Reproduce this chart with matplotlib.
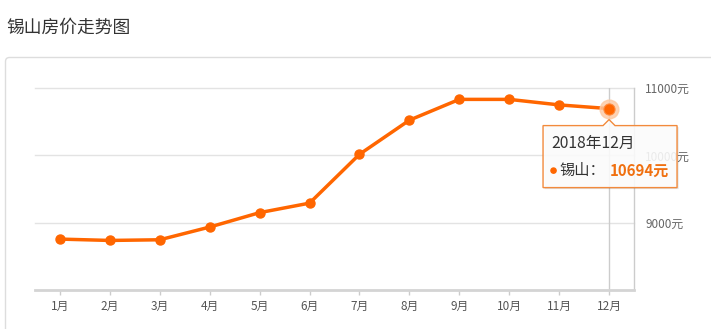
import matplotlib
matplotlib.use("Agg")
import matplotlib.pyplot as plt
import matplotlib.transforms as mtransforms
from matplotlib.patches import FancyBboxPatch, Polygon, Circle

plt.rcParams['font.family'] = ['Noto Sans CJK SC', 'DejaVu Sans']

# =========================
# Datos
# =========================
title = "锡山房价走势图"
months = ["1月", "2月", "3月", "4月", "5月", "6月",
          "7月", "8月", "9月", "10月", "11月", "12月"]
prices = [8756, 8736, 8746, 8935, 9149, 9290,
          10015, 10522, 10831, 10831, 10749, 10694]
y_ticks = [9000, 10000, 11000]
tip_date = "2018年12月"
tip_name = "锡山："

W, H = 711, 329
ORANGE = "#ff6600"
px = mtransforms.IdentityTransform()

fig = plt.figure(figsize=(W / 100, H / 100), dpi=100)
fig.patch.set_facecolor("white")

# titulo
fig.text(6 / W, 1 - 28 / H, title, fontsize=12.8, color="#333333",
         ha="left", va="center")

# panel exterior
panel = FancyBboxPatch((5.5, -40), 760, H - 57.5 + 40,
                       boxstyle="round,pad=0,rounding_size=4",
                       transform=px, facecolor="white",
                       edgecolor="#dddddd", lw=1, zorder=-1)
fig.add_artist(panel)

# =========================
# Ejes
# =========================
left, right, top, bottom = 35, 634, 88, 290
ax = fig.add_axes([left / W, 1 - bottom / H, (right - left) / W, (bottom - top) / H])
ax.set_facecolor("none")
ax.set_xlim(-0.5, len(months) - 0.5)
ax.set_ylim(8000, 11000)

for s in ["top", "left"]:
    ax.spines[s].set_visible(False)
ax.spines["bottom"].set_color("#d4d4d4")
ax.spines["bottom"].set_linewidth(2)
ax.spines["right"].set_color("#cccccc")
ax.spines["right"].set_linewidth(1)

for v in y_ticks:
    ax.axhline(v, color="#e3e3e3", lw=1, zorder=1, clip_on=False)

ax.yaxis.tick_right()
ax.set_yticks(y_ticks)
ax.set_yticklabels([f"{v}元" for v in y_ticks])
ax.tick_params(axis="y", length=0, pad=8, labelsize=8.5, labelcolor="#666666")

x = list(range(len(months)))
ax.set_xticks(x)
ax.set_xticklabels(months)
ax.tick_params(axis="x", length=3.5, width=1, color="#cccccc", pad=4,
               labelsize=8.5, labelcolor="#555555")

# linea cruzada
ax.axvline(x[-1], color="#cccccc", lw=1, zorder=2)

ax.plot(x, prices, color=ORANGE, lw=2.5, marker="o", ms=6.5, zorder=3,
        solid_capstyle="round")

# punto resaltado
ax.plot(x[-1], prices[-1], "o", ms=13.5, color="#fcc9a3", alpha=0.8, zorder=4)
ax.plot(x[-1], prices[-1], "o", ms=8, color=ORANGE, mec="#ff8a3d", mew=0.8, zorder=5)

# =========================
# Tooltip
# =========================
cx, cy = ax.transData.transform((x[-1], prices[-1]))
bl, br, bt, bb = cx - 66, cx + 68, cy - 17, cy - 79
pts = [(bl, bb), (bl, bt), (cx - 6, bt), (cx, cy - 11),
       (cx + 6, bt), (br, bt), (br, bb)]

shadow = Polygon([(a + 1.5, b - 1.5) for a, b in pts], closed=True,
                 transform=px, facecolor="#000000", alpha=0.12,
                 edgecolor="none", zorder=8)
fig.add_artist(shadow)
box = Polygon(pts, closed=True, transform=px, facecolor="white", alpha=0.88,
              edgecolor="none", zorder=9)
fig.add_artist(box)
border = Polygon(pts, closed=True, transform=px, facecolor="none",
                 edgecolor="#f28a3c", lw=1, zorder=10)
fig.add_artist(border)

fig.text(cx - 58, cy - 35, tip_date, transform=px, fontsize=11.3,
         color="#333333", ha="left", va="center", zorder=11)
fig.add_artist(Circle((cx - 55.5, cy - 62), 2.6, transform=px,
                      color=ORANGE, zorder=11))
fig.text(cx - 50, cy - 62, tip_name, transform=px, fontsize=11,
         color="#333333", ha="left", va="center", zorder=11)
fig.text(cx + 1, cy - 62, f"{prices[-1]}元", transform=px, fontsize=10.8,
         fontweight="bold", color="#f07010", ha="left", va="center", zorder=11)

fig.savefig("out.png", dpi=100)
